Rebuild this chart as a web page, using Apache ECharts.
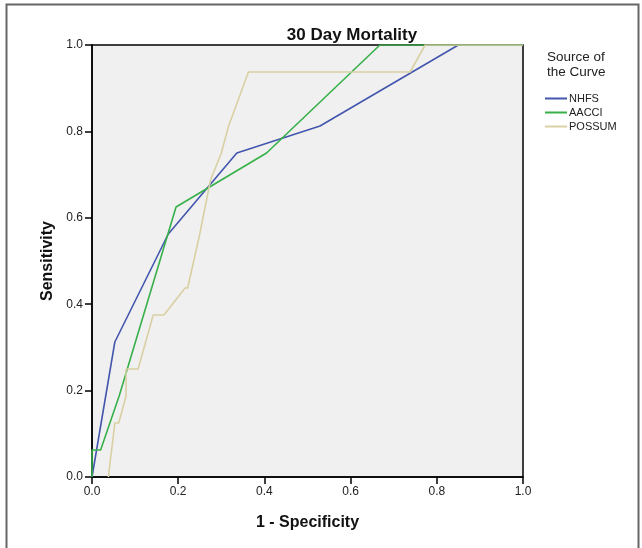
<!DOCTYPE html>
<html>
<head>
<meta charset="utf-8">
<script src="https://cdn.jsdelivr.net/npm/echarts@6/dist/echarts.min.js"></script>
<style>
  html, body { margin: 0; padding: 0; background: #fff; }
  #roc { width: 642px; height: 548px; }
</style>
</head>
<body>
<div id="roc"></div>
<script>
// ROC points [1 - specificity, sensitivity]
var nhfs = [[0, 0], [0.053, 0.3125], [0.177, 0.5625], [0.336, 0.75], [0.529, 0.8125], [0.85, 1], [1, 1]]
var aacci = [[0, 0], [0, 0.0625], [0.02, 0.0625], [0.063, 0.1875], [0.195, 0.625], [0.405, 0.75], [0.668, 1], [1, 1]]
var possum = [[0.038, 0], [0.053, 0.125], [0.062, 0.125], [0.079, 0.1875], [0.079, 0.25], [0.107, 0.25],
  [0.142, 0.375], [0.167, 0.375], [0.216, 0.4375], [0.222, 0.4375], [0.25, 0.5625], [0.275, 0.6875],
  [0.30, 0.75], [0.317, 0.8125], [0.363, 0.9375], [0.738, 0.9375], [0.773, 1], [1, 1]]
var seriesNames = ['NHFS', 'AACCI', 'POSSUM']
var seriesColors = ['#4356ad', '#37b04a', '#d8d0a2']
var tickLabels = ['0.0', '0.2', '0.4', '0.6', '0.8', '1.0']

var chart = echarts.init(document.getElementById('roc'))
var font = 'Liberation Sans, Arial, sans-serif'

function axis(name, gap) {
  return {
    type: 'value',
    min: 0,
    max: 1,
    interval: 0.2,
    name: name,
    nameLocation: 'middle',
    nameGap: gap,
    nameTextStyle: { color: '#111', fontSize: 16, fontWeight: 'bold', fontFamily: font },
    axisLine: { show: true, lineStyle: { color: '#000', width: 1.5 } },
    axisTick: { show: true, inside: false, length: 7, lineStyle: { color: '#000', width: 1.5 } },
    axisLabel: {
      color: '#222', fontSize: 12, fontFamily: font, margin: 9,
      formatter: function (v) { return tickLabels[Math.round(v * 5)] }
    },
    splitLine: { show: false }
  }
}

var series = [nhfs, aacci, possum].map(function (d, i) {
  return {
    name: seriesNames[i],
    type: 'line',
    data: d,
    symbol: 'none',
    animation: false,
    lineStyle: { color: seriesColors[i], width: 1.6 },
    itemStyle: { color: seriesColors[i] }
  }
})

chart.setOption({
  backgroundColor: '#fff',
  title: {
    text: '30 Day Mortality',
    left: 347,
    top: 22,
    textAlign: 'center',
    textStyle: { color: '#111', fontSize: 17, fontWeight: 'bold', fontFamily: font }
  },
  grid: {
    left: 92, top: 45, width: 431, height: 432,
    show: true,
    backgroundColor: '#f0f0f0',
    borderColor: '#000',
    borderWidth: 1.5
  },
  xAxis: axis('1 - Specificity', 38),
  yAxis: axis('Sensitivity', 36),
  legend: {
    orient: 'vertical',
    left: 540,
    top: 88,
    itemWidth: 22,
    itemHeight: 2,
    itemGap: 3,
    icon: 'rect',
    textStyle: { color: '#222', fontSize: 11, fontFamily: font, padding: [0, 0, 0, -3] },
    data: seriesNames
  },
  graphic: [
    {
      type: 'text', left: 547, top: 50,
      style: { text: 'Source of\nthe Curve', fill: '#222', fontSize: 13.5, lineHeight: 15, fontFamily: font }
    },
    {
      type: 'polyline',
      shape: { points: [[6.5, 548], [6.5, 4.5], [638.5, 4.5], [638.5, 548]] },
      style: { stroke: '#666', lineWidth: 2, fill: null }
    }
  ],
  series: series
})
</script>
</body>
</html>
